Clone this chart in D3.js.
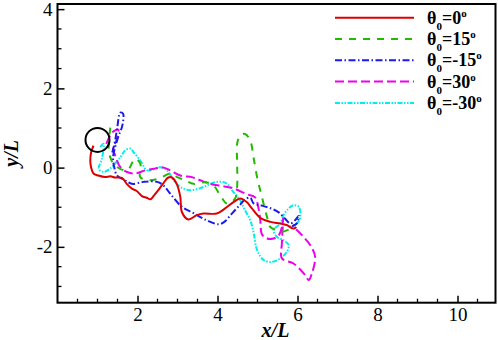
<!DOCTYPE html>
<html><head><meta charset="utf-8">
<script src="https://cdn.jsdelivr.net/npm/d3@7"></script>
<style>body{margin:0;background:#fff}svg{display:block}</style>
</head><body><svg id="c" width="498" height="340"></svg>
<script>
const xTicks = [2, 4, 6, 8, 10];
const yTicks = [-2, 0, 2, 4];
const labels = ["0", "15", "-15", "30", "-30"];
const colors = ["#dd0000", "#22bb00", "#1a1aee", "#ee00ee", "#00eeee"];
const dashes = ["none", "7,7", "7,2.5,1.5,2.5", "9,4", "5,1.5,1.5,1.5,1.5,1.5"];
const cylinder = [1.0, 0.7, 0.3];

const theta0 = [[0.9,0.557],[0.84,0.38],[0.82,0.18],[0.84,0.005],[0.9,-0.15],[1.02,-0.2],[1.19,-0.24],[1.32,-0.22],[1.44,-0.25],[1.61,-0.26],[1.73,-0.41],[1.86,-0.53],[1.98,-0.59],[2.11,-0.72],[2.23,-0.76],[2.32,-0.80],[2.40,-0.72],[2.52,-0.57],[2.65,-0.39],[2.77,-0.25],[2.86,-0.25],[2.98,-0.41],[3.07,-0.74],[3.11,-1.12],[3.27,-1.31],[3.48,-1.20],[3.65,-1.16],[3.98,-1.16],[4.15,-1.06],[4.40,-0.87],[4.57,-0.78],[4.73,-0.87],[4.86,-1.03],[5.07,-1.27],[5.32,-1.37],[5.57,-1.41],[5.73,-1.45],[5.90,-1.54],[5.97,-1.50]];
const theta15 = [[1.32,1.01],[1.28,0.51],[1.32,0.26],[1.44,0.055],[1.74,-0.07],[1.94,0.22],[2.07,0.10],[2.07,-0.24],[2.32,-0.32],[2.61,-0.24],[2.82,-0.15],[2.99,-0.24],[3.19,-0.32],[3.40,-0.41],[3.69,-0.37],[3.90,-0.45],[4.07,-0.70],[4.24,-0.91],[4.44,-0.78],[4.49,-0.49],[4.49,0.18],[4.49,0.60],[4.57,0.81],[4.69,0.85],[4.82,0.68],[4.90,0.26],[4.99,-0.24],[5.11,-0.74],[5.24,-1.25],[5.32,-1.50],[5.49,-1.58],[5.64,-1.61],[5.82,-1.55],[5.94,-1.53]];
const thetaM15 = [[1.37,0.38],[1.44,0.68],[1.49,0.98],[1.57,1.39],[1.64,1.36],[1.62,1.06],[1.52,0.78],[1.44,0.51],[1.39,0.26],[1.42,0.005],[1.49,-0.2],[1.69,-0.32],[1.86,-0.41],[2.15,-0.36],[2.49,-0.36],[2.65,-0.45],[2.82,-0.66],[3.11,-0.99],[3.40,-1.15],[3.73,-1.33],[4.03,-1.43],[4.17,-1.37],[4.36,-1.16],[4.57,-0.93],[4.69,-0.80],[4.82,-0.76],[4.90,-0.90],[5.11,-0.96],[5.36,-1.04],[5.53,-1.13],[5.69,-1.29],[5.82,-1.41],[5.94,-1.33],[6.03,-1.22],[5.99,-1.40],[5.87,-1.48]];
const theta30 = [[1.22,0.60],[1.37,0.89],[1.52,0.96],[1.47,0.68],[1.39,0.48],[1.44,0.31],[1.57,0.01],[1.74,-0.11],[1.94,-0.15],[2.19,-0.07],[2.40,-0.03],[2.61,0.01],[2.82,-0.07],[3.07,-0.20],[3.36,-0.24],[3.57,-0.32],[3.82,-0.41],[4.07,-0.46],[4.36,-0.51],[4.73,-0.67],[4.94,-0.75],[5.02,-1.00],[5.07,-1.33],[5.11,-1.68],[5.24,-1.79],[5.40,-1.79],[5.53,-1.71],[5.61,-1.50],[5.64,-1.28],[5.61,-1.91],[5.61,-2.29],[5.90,-2.42],[6.19,-2.71],[6.28,-2.84],[6.36,-2.67],[6.44,-2.25],[6.32,-1.96],[6.15,-1.75],[5.99,-1.58],[5.87,-1.48]];
const thetaM30 = [[1.07,0.52],[1.15,0.60],[1.11,0.22],[1.03,-0.03],[1.15,-0.11],[1.32,-0.02],[1.57,0.26],[1.69,0.43],[1.82,0.48],[1.90,0.39],[2.07,0.18],[2.24,-0.07],[2.44,-0.03],[2.57,0.01],[2.74,-0.07],[2.90,-0.32],[3.07,-0.49],[3.32,-0.57],[3.65,-0.49],[3.90,-0.38],[4.11,-0.36],[4.24,-0.41],[4.40,-0.62],[4.57,-0.83],[4.69,-1.08],[4.82,-1.33],[4.90,-1.63],[4.99,-2.08],[5.15,-2.33],[5.36,-2.38],[5.57,-2.29],[5.73,-2.13],[5.78,-1.96],[5.65,-1.83],[5.49,-1.75],[5.40,-1.58],[5.57,-1.41],[5.65,-1.20],[5.78,-1.03],[5.90,-0.95],[6.03,-0.99],[6.07,-1.25],[5.98,-1.41],[5.82,-1.48]];
const seriesData = [theta0, theta15, thetaM15, theta30, thetaM30];

const svg = d3.select("#c");
const L = 57.5, R = 495.5, T = 4, B = 302.7;
const x = d3.scaleLinear().domain([0, 10.95]).range([L, R]);
const y = d3.scaleLinear().domain([-3.41, 4.13]).range([B, T]);
const serif = "'Liberation Serif','Times New Roman',serif";

// series
const line = d3.line().x(d => x(d[0])).y(d => y(d[1])).curve(d3.curveCatmullRom.alpha(0.5));
const order = [4, 3, 1, 2, 0];
order.forEach(i => {
  svg.append("path").attr("d", line(seriesData[i]))
    .attr("fill", "none").attr("stroke", colors[i]).attr("stroke-width", 2)
    .attr("stroke-dasharray", dashes[i]).attr("stroke-linejoin", "round");
});

// cylinder
svg.append("circle").attr("cx", x(cylinder[0])).attr("cy", y(cylinder[1]))
  .attr("r", x(cylinder[2]) - x(0)).attr("fill", "none").attr("stroke", "#000").attr("stroke-width", 2);

// axes
const xMinor = d3.range(0.5, 10.95, 0.5).filter(v => Math.abs(v % 2) > 1e-6);
const yMinor = d3.range(-3, 4.13, 0.5).filter(v => Math.abs(v % 2) > 1e-6);
const xAx = svg.append("g").attr("transform", `translate(0,${B})`)
  .call(d3.axisBottom(x).tickValues(xTicks).tickFormat(d3.format("d")).tickSizeInner(-7).tickSizeOuter(0).tickPadding(5));
xAx.append("g").selectAll("line").data(xMinor).join("line")
  .attr("x1", d => x(d)).attr("x2", d => x(d)).attr("y1", 0).attr("y2", -4).attr("stroke", "#000").attr("stroke-width", 1.3);
const yAx = svg.append("g").attr("transform", `translate(${L},0)`)
  .call(d3.axisLeft(y).tickValues(yTicks).tickFormat(d3.format("d")).tickSizeInner(-7).tickSizeOuter(0).tickPadding(5));
yAx.append("g").selectAll("line").data(yMinor).join("line")
  .attr("y1", d => y(d)).attr("y2", d => y(d)).attr("x1", 0).attr("x2", 4).attr("stroke", "#000").attr("stroke-width", 1.3);
[xAx, yAx].forEach(g => {
  g.attr("font-family", serif).attr("font-size", 19);
  g.select(".domain").remove();
  g.selectAll(".tick line").attr("stroke-width", 1.5);
  g.selectAll("text").attr("font-family", serif).attr("font-size", 19).attr("fill", "#000");
});
yAx.selectAll(".tick text").text(d => d < 0 ? "-" + Math.abs(d) : d);
svg.append("rect").attr("x", L).attr("y", T).attr("width", R - L).attr("height", B - T)
  .attr("fill", "none").attr("stroke", "#000").attr("stroke-width", 2);

// axis titles
svg.append("text").attr("x", 275.5).attr("y", 337).attr("text-anchor", "middle")
  .attr("font-family", serif).attr("font-size", 20).attr("font-weight", "bold").attr("font-style", "italic").text("x/L");
svg.append("text").attr("transform", `translate(18,${(T + B) / 2}) rotate(-90)`).attr("text-anchor", "middle")
  .attr("font-family", serif).attr("font-size", 20).attr("font-weight", "bold").attr("font-style", "italic").text("y/L");

// legend
const lg = svg.append("g");
labels.forEach((lab, i) => {
  const yy = 17.7 + i * 21.3;
  lg.append("line").attr("x1", 335).attr("x2", 414).attr("y1", yy).attr("y2", yy)
    .attr("stroke", colors[i]).attr("stroke-width", 2).attr("stroke-dasharray", dashes[i]);
  const t = lg.append("text").attr("x", 427).attr("y", yy + 6).attr("font-family", serif)
    .attr("font-size", 18).attr("font-weight", "bold").attr("fill", "#000");
  t.append("tspan").text("θ");
  t.append("tspan").attr("font-size", 11).attr("dy", 6).text("0");
  t.append("tspan").attr("dy", -6).text("=" + lab);
  t.append("tspan").attr("font-size", 11).attr("dy", -7).text("o");
});
</script></body></html>
